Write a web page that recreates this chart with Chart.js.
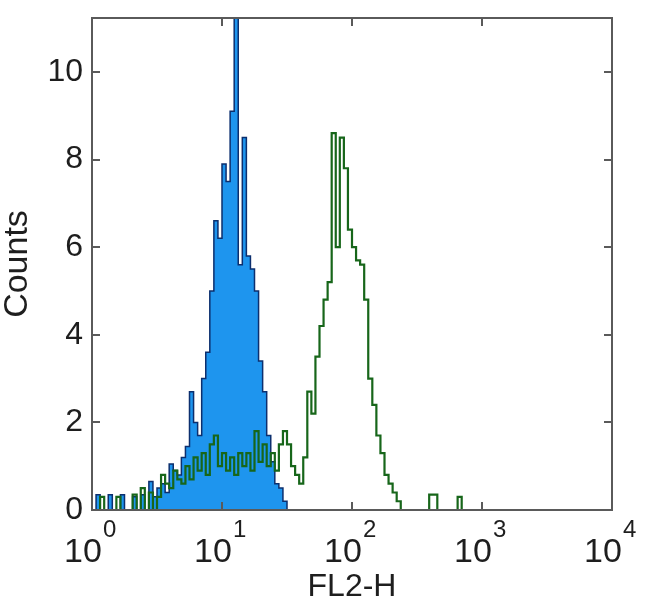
<!DOCTYPE html>
<html><head><meta charset="utf-8">
<script src="https://cdn.jsdelivr.net/npm/chart.js@4/dist/chart.umd.min.js"></script>
<style>html,body{margin:0;padding:0;background:#fff}#wrap{width:650px;height:615px}</style>
</head><body><div id="wrap"><canvas id="c" width="650" height="615"></canvas></div>
<script>
// ---- data (histogram channels, 32 channels per decade, starting at 10^0) ----
const binsPerDecade = 32;
const isotypeCounts = [0,0.35,0,0,0.35,0,0,0.35,0,0,0.3,0,0.35,0,0.65,0.3,0.5,0.6,0.4,1.05,
  0.9,0.8,1.2,1.45,2.7,2.0,1.7,3.0,3.6,5.0,6.6,6.2,7.9,7.5,9.1,11.5,5.6,8.5,5.8,5.5,
  5.0,3.4,2.7,1.7,1.1,0.6,0.5,0.2];
const stainedCounts = [0,0,0.3,0,0,0,0.3,0,0,0,0.35,0,0.5,0,0.4,0,0.3,0.8,0.6,0.5,
  0.9,0.7,0.6,1.0,0.7,1.2,0.9,1.3,0.8,1.5,1.7,1.0,1.3,0.9,1.2,0.8,1.3,1.0,1.3,0.9,
  1.8,1.1,1.5,1.0,1.3,0.9,1.5,1.8,1.5,1.0,0.8,0.6,1.2,2.7,2.2,3.5,4.2,4.8,5.2,8.6,
  6.0,8.5,7.8,6.4,6.0,5.7,5.6,4.8,3.0,2.4,1.7,1.3,0.8,0.6,0.4,0.2,0,0,0,0,
  0,0,0,0.35,0.35,0,0,0,0,0,0.3,0];
const xTickValues = [1,10,100,1000,10000];
const xTickExponents = ['0','1','2','3','4'];
const yTickValues = [0,2,4,6,8,10];
const yMax = 11.23;
const xTitle = 'FL2-H';
const yTitle = 'Counts';

function toPoints(counts){
  const pts = counts.map((c,k)=>({x: Math.pow(10, k/binsPerDecade), y: c}));
  pts.push({x: Math.pow(10, counts.length/binsPerDecade), y: 0});
  return pts;
}

Chart.defaults.font.family = '"Liberation Sans", Arial, Helvetica, sans-serif';
Chart.defaults.color = '#1e1e1e';

const frameColor = '#5a5a5a';
const framePlugin = {
  id: 'frame',
  afterDatasetsDraw(chart){
    const ctx = chart.ctx, a = chart.chartArea;
    const xs = chart.scales.x, ys = chart.scales.y;
    ctx.save();
    ctx.strokeStyle = frameColor; ctx.lineWidth = 2;
    ctx.strokeRect(a.left, a.top, a.right-a.left, a.bottom-a.top);
    ctx.beginPath();
    yTickValues.forEach(v=>{
      const py = Math.round(ys.getPixelForValue(v));
      ctx.moveTo(a.left, py); ctx.lineTo(a.left+8, py);
      ctx.moveTo(a.right, py); ctx.lineTo(a.right-8, py);
    });
    xTickValues.forEach(v=>{
      const px = Math.round(xs.getPixelForValue(v));
      ctx.moveTo(px, a.bottom); ctx.lineTo(px, a.bottom-8);
      ctx.moveTo(px, a.top); ctx.lineTo(px, a.top+8);
    });
    ctx.stroke();
    ctx.restore();
  },
  afterDraw(chart){
    const ctx = chart.ctx, xs = chart.scales.x;
    ctx.save();
    ctx.fillStyle = '#1e1e1e';
    ctx.textBaseline = 'alphabetic';
    ctx.textAlign = 'left';
    xTickValues.forEach((v,i)=>{
      const px = xs.getPixelForValue(v);
      ctx.font = '34px "Liberation Sans", Arial, sans-serif';
      ctx.fillText('10', px-28, 562);
      ctx.font = '24px "Liberation Sans", Arial, sans-serif';
      ctx.fillText(xTickExponents[i], px+11, 537);
    });
    ctx.restore();
  }
};

new Chart(document.getElementById('c'), {
  type: 'line',
  data: {
    datasets: [
      {label: 'Isotype', data: toPoints(isotypeCounts), stepped: true, fill: 'origin', order: 2,
       backgroundColor: '#1e95ee', borderColor: '#0c2f6e', borderWidth: 1.5, pointRadius: 0},
      {label: 'Stained', data: toPoints(stainedCounts), stepped: true, fill: false, order: 1,
       borderColor: '#17661a', borderWidth: 2.2, pointRadius: 0}
    ]
  },
  options: {
    responsive: false, animation: false, devicePixelRatio: 1,
    layout: {padding: {top: 18, right: 38, left: 0, bottom: 0}},
    plugins: {legend: {display: false}, tooltip: {enabled: false}},
    scales: {
      x: {
        type: 'logarithmic', min: 1, max: 10000,
        grid: {display: false}, border: {display: false},
        ticks: {display: false},
        afterBuildTicks: s => { s.ticks = xTickValues.map(v=>({value: v})); },
        afterFit: s => { s.height = 105; s.paddingLeft = 0; s.paddingRight = 0; },
        title: {display: true, text: xTitle, font: {size: 32, lineHeight: 1}, padding: {top: 0, bottom: 12}, color: '#1e1e1e'}
      },
      y: {
        min: 0, max: yMax,
        grid: {display: false, drawTicks: false}, border: {display: false},
        afterBuildTicks: s => { s.ticks = yTickValues.map(v=>({value: v})); },
        ticks: {font: {size: 32}, padding: 9, color: '#1e1e1e'},
        afterFit: s => { s.width = 92; s.paddingTop = 0; s.paddingBottom = 0; },
        title: {display: true, text: yTitle, font: {size: 34, lineHeight: 1}, padding: {top: 1, bottom: 0}, color: '#1e1e1e'}
      }
    }
  },
  plugins: [framePlugin]
});
</script></body></html>
